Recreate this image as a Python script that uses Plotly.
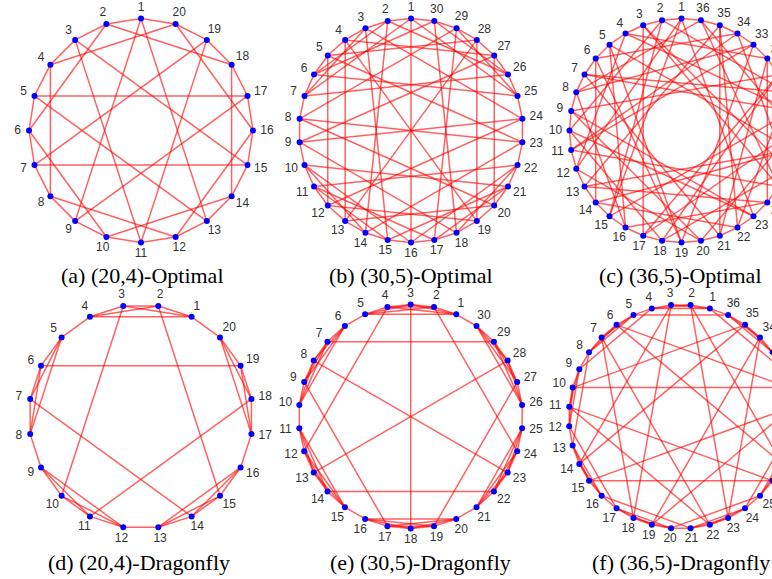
import math
import plotly.graph_objects as go

W, H = 772, 579
R = 112.0

# ---------------- data ----------------
captions = ["(a) (20,4)-Optimal", "(b) (30,5)-Optimal", "(c) (36,5)-Optimal",
            "(d) (20,4)-Dragonfly", "(e) (30,5)-Dragonfly", "(f) (36,5)-Dragonfly"]
node_counts = [20, 30, 36, 20, 30, 36]
first_node_angle = [90, 90, 90, 63, 66, 75]   # degrees, node 1

ring_a = list(range(1, 21))
chords_a = [(1, 9), (1, 13), (2, 6), (2, 18), (3, 11), (3, 15), (4, 8), (4, 20), (5, 13), (5, 17),
            (6, 10), (7, 15), (7, 19), (8, 12), (9, 17), (10, 14), (11, 19), (12, 16), (14, 18), (16, 20)]

ring_b = list(range(1, 31))
chords_b = [(1, 16), (8, 23), (9, 24), (13, 28), (4, 19), (2, 14), (17, 29), (18, 30), (3, 15),
            (4, 13), (19, 28), (5, 12), (20, 27), (1, 7), (1, 25), (10, 16), (16, 22), (4, 27),
            (5, 28), (13, 20), (12, 19), (6, 25), (7, 26), (10, 21), (11, 22), (3, 7), (25, 29),
            (10, 14), (18, 22), (2, 6), (26, 30), (11, 15), (17, 21), (8, 20), (12, 24), (9, 27),
            (5, 23), (8, 29), (3, 24), (9, 18), (14, 23), (6, 30), (2, 26), (11, 17), (15, 21)]

ring_c = list(range(1, 37))
chords_c = [(1, 15), (3, 17), (5, 19), (7, 21), (9, 23), (11, 25), (13, 27), (15, 29), (17, 31),
            (19, 33), (21, 35), (23, 1), (25, 3), (27, 5), (29, 7), (31, 9), (33, 11), (35, 13),
            (2, 10), (4, 12), (6, 14), (8, 16), (10, 18), (12, 20), (14, 22), (16, 24), (18, 26),
            (20, 28), (22, 30), (24, 32), (26, 34), (28, 36), (30, 2), (32, 4), (34, 6), (36, 8),
            (1, 12), (5, 16), (9, 20), (13, 24), (17, 28), (21, 32), (25, 36), (29, 4), (33, 8),
            (3, 26), (7, 30), (11, 34), (15, 2), (19, 6), (23, 10), (27, 14), (31, 18), (35, 22)]

groups_d = [[1, 2, 3, 4], [5, 6, 7, 8], [9, 10, 11, 12], [13, 14, 15, 16], [17, 18, 19, 20]]
global_d = [(1, 20), (2, 15), (3, 10), (4, 5), (6, 19), (7, 14), (8, 9), (11, 18), (12, 13), (16, 17)]

groups_e = [[1, 2, 3, 4, 5], [6, 7, 8, 9, 10], [11, 12, 13, 14, 15], [16, 17, 18, 19, 20],
            [21, 22, 23, 24, 25], [26, 27, 28, 29, 30]]
global_e = [(1, 30), (2, 24), (3, 18), (4, 12), (5, 6), (7, 29), (8, 23), (9, 17), (10, 11),
            (13, 28), (14, 22), (15, 16), (19, 27), (20, 21), (25, 26)]

groups_f = [[1, 2, 3, 4], [5, 6, 7, 8], [9, 10, 11, 12], [13, 14, 15, 16], [17, 18, 19, 20],
            [21, 22, 23, 24], [25, 26, 27, 28], [29, 30, 31, 32], [33, 34, 35, 36]]
global_f = [(1, 36), (1, 32), (2, 27), (2, 23), (3, 18), (3, 14), (4, 9), (4, 5), (5, 36), (6, 31),
            (6, 27), (7, 22), (7, 18), (8, 13), (8, 9), (10, 35), (10, 31), (11, 26), (11, 22), (12, 17),
            (12, 13), (14, 35), (15, 30), (15, 26), (16, 21), (16, 17), (19, 34), (19, 30), (20, 25),
            (20, 21), (23, 34), (24, 29), (24, 25), (28, 33), (28, 29), (32, 33)]

# ---------------- layout (pixels) ----------------
centers = [(141.0, 130.5), (411.0, 130.5), (681.5, 130.5),
           (140.8, 416.6), (410.7, 416.6), (680.8, 416.6)]
caption_pos = [(142, 276), (411, 276), (680, 276), (139, 562), (420, 562), (681, 562)]


def ring_edges(order):
    return [(order[i], order[(i + 1) % len(order)]) for i in range(len(order))]


def group_edges(groups):
    out = []
    for g in groups:
        for i in range(len(g)):
            for j in range(i + 1, len(g)):
                out.append((g[i], g[j]))
    return out


edge_sets = [ring_edges(ring_a) + chords_a,
             ring_edges(ring_b) + chords_b,
             ring_edges(ring_c) + chords_c,
             group_edges(groups_d) + global_d,
             group_edges(groups_e) + global_e,
             group_edges(groups_f) + global_f]

fig = go.Figure()
LINE = dict(color="rgba(255,0,0,0.62)", width=1.5)

for p in range(6):
    n = node_counts[p]
    a0 = first_node_angle[p]
    step = 360.0 / n
    ang = {k: math.radians(a0 + (k - 1) * step) for k in range(1, n + 1)}
    px = {k: math.cos(ang[k]) for k in ang}
    py = {k: math.sin(ang[k]) for k in ang}
    ax = "x" if p == 0 else "x%d" % (p + 1)
    ay = "y" if p == 0 else "y%d" % (p + 1)
    for (u, v) in edge_sets[p]:
        fig.add_trace(go.Scatter(x=[px[u], px[v]], y=[py[u], py[v]], mode="lines", line=LINE,
                                 hoverinfo="skip", showlegend=False, xaxis=ax, yaxis=ay))
    ks = list(range(1, n + 1))
    fig.add_trace(go.Scatter(x=[px[k] for k in ks], y=[py[k] for k in ks], mode="markers",
                             marker=dict(color="#0000ff", size=6), hoverinfo="skip",
                             showlegend=False, xaxis=ax, yaxis=ay))
    lx, ly = [], []
    for k in ks:
        off = 11.0 + (3.0 if k >= 10 else 0.5) * abs(math.cos(ang[k]))
        f = (R + off) / R
        lx.append(px[k] * f)
        ly.append(py[k] * f)
    fig.add_trace(go.Scatter(x=lx, y=ly, mode="text", text=[str(k) for k in ks],
                             textfont=dict(family="Liberation Sans", size=12, color="#333333"),
                             hoverinfo="skip", showlegend=False, xaxis=ax, yaxis=ay))

    cx, cy = centers[p]
    x0, x1 = max(0.0, cx - 135), min(W, cx + 135)
    if p < 3:
        y0, y1 = 0.0, 265.0
    else:
        y0, y1 = 284.0, 550.0
    xa = dict(domain=[x0 / W, x1 / W], range=[(x0 - cx) / R, (x1 - cx) / R], visible=False,
              fixedrange=True)
    ya = dict(domain=[1 - y1 / H, 1 - y0 / H], range=[(cy - y1) / R, (cy - y0) / R], visible=False,
              fixedrange=True)
    if p > 0:
        xa["anchor"] = ay
        ya["anchor"] = ax
    fig.layout["xaxis" if p == 0 else "xaxis%d" % (p + 1)] = xa
    fig.layout["yaxis" if p == 0 else "yaxis%d" % (p + 1)] = ya

for p in range(6):
    cxp, cyp = caption_pos[p]
    fig.add_annotation(x=cxp / W, y=1 - cyp / H, xref="paper", yref="paper", text=captions[p],
                       showarrow=False, xanchor="center", yanchor="middle",
                       font=dict(family="Liberation Serif", size=22, color="#000000"))

fig.update_layout(width=W, height=H, margin=dict(l=0, r=0, t=0, b=0),
                  paper_bgcolor="white", plot_bgcolor="rgba(0,0,0,0)")
fig.write_html("out.html", config={"displayModeBar": False, "staticPlot": True},
               post_script="document.body.style.margin='0px';document.body.style.overflow='hidden';")
